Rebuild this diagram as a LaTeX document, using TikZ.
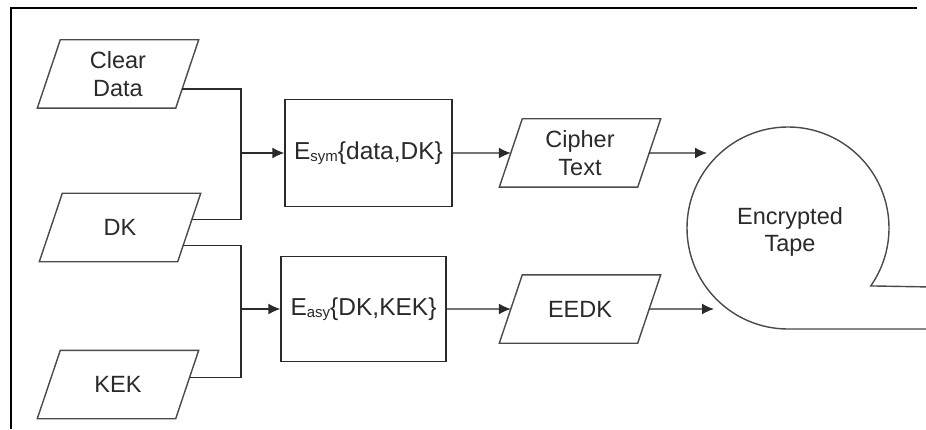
\documentclass[tikz,border=0pt]{standalone}
\usepackage{fontspec}
\setmainfont{Liberation Sans}
\usetikzlibrary{arrows.meta,calc}
\definecolor{ink}{HTML}{2A2A2A}
\tikzset{
  txt/.style={font=\fontsize{23.5}{27.5}\selectfont, text=ink, align=center},
  paranode/.style={txt, inner sep=0pt, minimum width=115pt, minimum height=68pt},
  boxnode/.style={txt, font=\fontsize{24.5}{28}\selectfont, draw=ink, line width=1.4pt, inner sep=0pt},
  shapeline/.style={draw=ink!85, line width=1.4pt, line join=miter},
  conn/.style={draw=ink, line width=1.4pt},
  arr/.style={conn, -{Latex[length=12pt,width=11pt]}},
  framel/.style={draw=black, line width=1.6pt}
}
\newcommand\paral[1]{\draw[shapeline] (#1.north west) -- ([xshift=23pt]#1.north east) -- (#1.south east) -- ([xshift=-23pt]#1.south west) -- cycle;}
\newcommand\subsm[1]{\raisebox{-2pt}{\fontsize{15}{15}\selectfont #1}}
\begin{document}
\begin{tikzpicture}[x=1pt,y=1pt]
\useasboundingbox (0,0) rectangle (926,429);
\fill[white] (0,0) rectangle (926,429);
% frame
\draw[framel] (11,0) -- (11,421) -- (917,421);
% input parallelograms
\node[paranode] (cd) at (118,355) {Clear\\Data};
\node[paranode] (dk) at (120,201.5) {DK};
\node[paranode] (kek) at (118,44.5) {KEK};
\paral{cd}\paral{dk}\paral{kek}
% encryption boxes
\node[boxnode, minimum width=167pt, minimum height=107pt] (esym) at (368.5,276) {E\subsm{sym}\{data,DK\}};
\node[boxnode, minimum width=165pt, minimum height=105pt] (easy) at (363.5,120) {E\subsm{asy}\{DK,KEK\}};
% outputs
\node[paranode] (ct) at (580,276) {Cipher\\Text};
\node[paranode] (eedk) at (580,120) {EEDK};
\paral{ct}\paral{eedk}
% tape
\node[txt] (tape) at (790,197) {Encrypted\\Tape};
\coordinate (tapebot) at (788,100);
\draw[shapeline] (926,100) -- (tapebot) arc[start angle=270, end angle=-35, radius=101] -- (926,142.1);
% connection points
\coordinate (cdout) at ($([xshift=23pt]cd.north east)!0.72!(cd.south east)$);
\coordinate (dkout1) at ($([xshift=23pt]dk.north east)!0.38!(dk.south east)$);
\coordinate (dkout2) at ($([xshift=23pt]dk.north east)!0.76!(dk.south east)$);
\coordinate (kekout) at ($([xshift=23pt]kek.north east)!0.40!(kek.south east)$);
\coordinate (j1) at (241,276);
\coordinate (j2) at (241,120);
\coordinate (ctin) at ($(ct.north west)!0.5!([xshift=-23pt]ct.south west)$);
\coordinate (ctout) at ($([xshift=23pt]ct.north east)!0.5!(ct.south east)$);
\coordinate (eedkin) at ($(eedk.north west)!0.5!([xshift=-23pt]eedk.south west)$);
\coordinate (eedkout) at ($([xshift=23pt]eedk.north east)!0.5!(eedk.south east)$);
\coordinate (t1) at (707,276);
\coordinate (t2) at (714,120);
% connectors
\draw[conn] (cdout) -| (j1) |- (dkout1);
\draw[arr] (j1) -- (esym.west);
\draw[conn] (dkout2) -| (j2) |- (kekout);
\draw[arr] (j2) -- (easy.west);
\draw[arr] (esym.east) -- (ctin);
\draw[arr] (easy.east) -- (eedkin);
\draw[arr] (ctout) -- (t1);
\draw[arr] (eedkout) -- (t2);
\end{tikzpicture}
\end{document}
